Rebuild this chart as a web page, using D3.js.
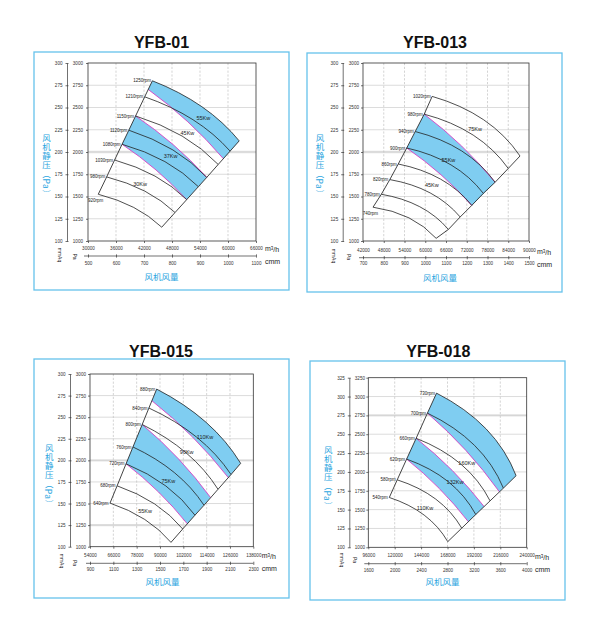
<!DOCTYPE html>
<html>
<head>
<meta charset="utf-8">
<script src="https://cdn.jsdelivr.net/npm/d3@7"></script>
<style>
html, body { margin: 0; padding: 0; background: #fff; }
svg { display: block; font-family: "Liberation Sans", Arial, sans-serif; }
</style>
</head>
<body>
<svg id="chart" width="604" height="637"></svg>
<script>
// ---- YFB-01 ----
const rpm01 = ["920rpm", "980rpm", "1030rpm", "1080rpm", "1120rpm", "1150rpm", "1210rpm", "1250rpm"];
const startQ01 = [32200, 34000, 35700, 37300, 38750, 40200, 42150, 43800];
const startP01 = [1525, 1720, 1910, 2087, 2245, 2405, 2620, 2800];
const endQ01 = [45800, 48650, 51150, 53650, 55450, 57900, 60450, 62400];
const endP01 = [1155, 1320, 1465, 1610, 1715, 1860, 2010, 2125];
// power limit lines (pink): [Q start, P start, Q end, P end]
const pink01 = [[37300, 2087, 51150, 1465], [40200, 2405, 55450, 1715], [42900, 2703, 59000, 1925]];
// shaded bands: [lower pink, upper pink], -1 = top rpm curve
const band01 = [[0, 1], [2, -1]];
const kw01 = ["30Kw", "37Kw", "45Kw", "55Kw"];
const kwQ01 = [41150, 47700, 51300, 54700];
const kwP01 = [1640, 1950, 2210, 2380];
const q01 = [30000, 36000, 42000, 48000, 54000, 60000, 66000];
const cmm01 = [500, 600, 700, 800, 900, 1000, 1100];
const pa01 = [1000, 1250, 1500, 1750, 2000, 2250, 2500, 2750, 3000];
const mm01 = [100, 125, 150, 175, 200, 225, 250, 275, 300];
const hi01 = [2000];

// ---- YFB-013 ----
const rpm013 = ["740rpm", "780rpm", "820rpm", "860rpm", "900rpm", "940rpm", "980rpm", "1020rpm"];
const startQ013 = [44900, 47300, 49750, 52200, 54650, 57100, 59700, 62000];
const startP013 = [1380, 1525, 1690, 1865, 2045, 2230, 2425, 2625];
const endQ013 = [63150, 66700, 70100, 73450, 76800, 80200, 84000, 87400];
const endP013 = [1030, 1130, 1270, 1400, 1535, 1660, 1815, 1955];
const pink013 = [[54650, 2045, 73450, 1400], [59700, 2425, 80200, 1660]];
const band013 = [[0, 1]];
const kw013 = ["45Kw", "55Kw", "75Kw"];
const kwQ013 = [61900, 66700, 74400];
const kwP013 = [1630, 1910, 2260];
const q013 = [42000, 48000, 54000, 60000, 66000, 72000, 78000, 84000, 90000];
const cmm013 = [700, 800, 900, 1000, 1100, 1200, 1300, 1400, 1500];
const pa013 = [1000, 1250, 1500, 1750, 2000, 2250, 2500, 2750, 3000];
const mm013 = [100, 125, 150, 175, 200, 225, 250, 275, 300];
const hi013 = [2000];

// ---- YFB-015 ----
const rpm015 = ["640rpm", "680rpm", "720rpm", "760rpm", "800rpm", "840rpm", "880rpm"];
const startQ015 = [64300, 67950, 72550, 76100, 80850, 84300, 88300];
const startP015 = [1505, 1705, 1960, 2155, 2415, 2606, 2825];
const endQ015 = [95650, 101700, 108000, 112650, 119850, 126550, 131500];
const endP015 = [1050, 1205, 1365, 1480, 1665, 1836, 1965];
const pink015 = [[72550, 1960, 104050, 1265], [80850, 2415, 116000, 1570], [85850, 2690, 125150, 1800]];
const band015 = [[0, 1], [2, -1]];
const kw015 = ["55Kw", "75Kw", "90Kw", "110Kw"];
const kwQ015 = [82300, 94300, 103750, 113150];
const kwP015 = [1415, 1765, 2093, 2274];
const q015 = [54000, 66000, 78000, 90000, 102000, 114000, 126000, 138000];
const cmm015 = [900, 1100, 1300, 1500, 1700, 1900, 2100, 2300];
const pa015 = [1000, 1250, 1500, 1750, 2000, 2250, 2500, 2750, 3000];
const mm015 = [100, 125, 150, 175, 200, 225, 250, 275, 300];
const hi015 = [2000, 1250];

// ---- YFB-018 ----
const rpm018 = ["540rpm", "580rpm", "620rpm", "660rpm", "700rpm", "730rpm"];
const startQ018 = [115100, 122300, 130850, 139500, 149750, 158050];
const startP018 = [1661, 1895, 2170, 2446, 2780, 3045];
const endQ018 = [168250, 180950, 193700, 206700, 218800, 230350];
const endP018 = [1075, 1254, 1435, 1616, 1785, 1950];
const pink018 = [[130850, 2170, 186950, 1339], [139500, 2446, 201250, 1541], [149750, 2780, 215150, 1737]];
const band018 = [[0, 1], [2, -1]];
const kw018 = ["110Kw", "132Kw", "160Kw"];
const kwQ018 = [147600, 174850, 185500];
const kwP018 = [1518, 1871, 2115];
const q018 = [96000, 120000, 144000, 168000, 192000, 216000, 240000];
const cmm018 = [1600, 2000, 2400, 2800, 3200, 3600, 4000];
const pa018 = [1000, 1250, 1500, 1750, 2000, 2250, 2500, 2750, 3000, 3250];
const mm018 = [100, 125, 150, 175, 200, 225, 250, 275, 300, 325];
const hi018 = [2750];

const BLUE = "#2aa5e0";
const BAND = "#7fcdf1";
const PINK = "#d63fc4";
const INK = "#222";

// where each panel sits on the page
const panels = [
  { title: "YFB-01", rpm: rpm01, sQ: startQ01, sP: startP01, eQ: endQ01, eP: endP01, pink: pink01, band: band01,
    kw: kw01, kwQ: kwQ01, kwP: kwP01, q: q01, cmm: cmm01, pa: pa01, mm: mm01, hi: hi01,
    box: [34, 52, 289, 290], tx: 161.5, ty: 48.3, plot: [88, 63, 256, 241], mmX: 67, paPad: 3,
    xl1: 248, cmmY: 256, xl2: 263, ux: 265, u1: 249, u2: 261.5, mmAq: [59.5, 255], paT: [75, 256.5],
    ytx: 46.5, yty: 133.5, xt: [161.5, 277], bend: 0.065, lowDrop: true },
  { title: "YFB-013", rpm: rpm013, sQ: startQ013, sP: startP013, eQ: endQ013, eP: endP013, pink: pink013, band: band013,
    kw: kw013, kwQ: kwQ013, kwP: kwP013, q: q013, cmm: cmm013, pa: pa013, mm: mm013, hi: hi013,
    box: [307, 53, 562, 292], tx: 435, ty: 48.3, plot: [363, 63, 529, 241], mmX: 342.7, paPad: 2,
    xl1: 250, cmmY: 257.7, xl2: 263.5, ux: 537, u1: 251.5, u2: 264.5, mmAq: [333.5, 256], paT: [348.3, 257],
    ytx: 320, yty: 133.5, xt: [440, 278], bend: 0.09, lowDrop: true },
  { title: "YFB-015", rpm: rpm015, sQ: startQ015, sP: startP015, eQ: endQ015, eP: endP015, pink: pink015, band: band015,
    kw: kw015, kwQ: kwQ015, kwP: kwP015, q: q015, cmm: cmm015, pa: pa015, mm: mm015, hi: hi015,
    box: [34, 359, 289, 598], tx: 161, ty: 356.7, plot: [90, 374, 253.3, 546.7], mmX: 70, paPad: 2,
    xl1: 555, cmmY: 563.3, xl2: 569.3, ux: 261.7, u1: 555.7, u2: 568.3, mmAq: [61.7, 561], paT: [75, 563],
    ytx: 49.3, yty: 443.8, xt: [162.5, 581.7], bend: 0.07, lowDrop: false },
  { title: "YFB-018", rpm: rpm018, sQ: startQ018, sP: startP018, eQ: endQ018, eP: endP018, pink: pink018, band: band018,
    kw: kw018, kwQ: kwQ018, kwP: kwP018, q: q018, cmm: cmm018, pa: pa018, mm: mm018, hi: hi018,
    box: [310, 361, 565, 600], tx: 438.3, ty: 356.7, plot: [368.3, 377.7, 526.7, 547.3], mmX: 349.3, paPad: 1.3,
    xl1: 555.7, cmmY: 563.7, xl2: 570, ux: 535, u1: 556.7, u2: 570, mmAq: [341.7, 560], paT: [355, 560],
    ytx: 328.3, yty: 445.5, xt: [442.5, 581.7], bend: 0.095, lowDrop: false }
];

const svg = d3.select("#chart");

// control point of a gently bowed curve between a and b (bows up / right)
function ctrl(a, b, k, t) {
  const dx = b[0] - a[0], dy = b[1] - a[1];
  const len = Math.hypot(dx, dy);
  const nx = dy / len, ny = -dx / len;
  return [a[0] + dx * t + nx * 2 * k * len, a[1] + dy * t + ny * 2 * k * len];
}

function drawPanel(p) {
  const g = svg.append("g");
  const [L, T, R, B] = p.plot;
  const x = d3.scaleLinear().domain([p.q[0], p.q[p.q.length - 1]]).range([L, R]);
  const y = d3.scaleLinear().domain([p.pa[0], p.pa[p.pa.length - 1]]).range([B, T]);
  const yMm = d3.scaleLinear().domain([p.mm[0], p.mm[p.mm.length - 1]]).range([B, T]);
  const xCmm = d3.scaleLinear().domain([p.cmm[0], p.cmm[p.cmm.length - 1]]).range([L, R]);

  g.append("rect")
    .attr("x", p.box[0]).attr("y", p.box[1])
    .attr("width", p.box[2] - p.box[0]).attr("height", p.box[3] - p.box[1])
    .attr("fill", "none").attr("stroke", "#66c2ec").attr("stroke-width", 1.3);

  g.append("text")
    .attr("x", p.tx).attr("y", p.ty)
    .attr("text-anchor", "middle").attr("font-weight", "bold").attr("font-size", 16)
    .attr("fill", "#111").text(p.title);

  // grid
  g.selectAll(".hi").data(p.hi).join("line").attr("class", "hi")
    .attr("x1", L).attr("x2", R).attr("y1", d => y(d)).attr("y2", d => y(d))
    .attr("stroke", "#e4e4e4").attr("stroke-width", 2.4);
  g.selectAll(".hg").data(p.pa.slice(1, -1)).join("line").attr("class", "hg")
    .attr("x1", L).attr("x2", R).attr("y1", d => y(d)).attr("y2", d => y(d))
    .attr("stroke", "#cdcdcd").attr("stroke-width", 0.7);
  g.selectAll(".vg").data(p.q.slice(1, -1)).join("line").attr("class", "vg")
    .attr("x1", d => x(d)).attr("x2", d => x(d)).attr("y1", T).attr("y2", B)
    .attr("stroke", "#c2c2c2").attr("stroke-width", 0.7).attr("stroke-dasharray", "2.2,1.6");

  const n = p.rpm.length;
  const S = i => [x(p.sQ[i]), y(p.sP[i])];
  const E = i => [x(p.eQ[i]), y(p.eP[i])];
  const edge = i => {
    if (i < 0) return { a: S(n - 1), b: E(n - 1), k: p.bend, t: 0.55 };
    const k = p.pink[i];
    return { a: [x(k[0]), y(k[1])], b: [x(k[2]), y(k[3])], k: 0.03, t: 0.5 };
  };

  // shaded bands
  p.band.forEach(([lo, up]) => {
    const e0 = edge(lo), e1 = edge(up);
    const c0 = ctrl(e0.a, e0.b, e0.k, e0.t), c1 = ctrl(e1.a, e1.b, e1.k, e1.t);
    const path = d3.path();
    path.moveTo(e0.a[0], e0.a[1]);
    path.quadraticCurveTo(c0[0], c0[1], e0.b[0], e0.b[1]);
    path.lineTo(e1.b[0], e1.b[1]);
    path.quadraticCurveTo(c1[0], c1[1], e1.a[0], e1.a[1]);
    path.closePath();
    g.append("path").attr("d", path.toString()).attr("fill", BAND);
  });

  // pink power lines
  p.pink.forEach((k, i) => {
    const e = edge(i), c = ctrl(e.a, e.b, e.k, e.t);
    const path = d3.path();
    path.moveTo(e.a[0], e.a[1]);
    path.quadraticCurveTo(c[0], c[1], e.b[0], e.b[1]);
    g.append("path").attr("d", path.toString()).attr("fill", "none")
      .attr("stroke", PINK).attr("stroke-width", 0.9);
  });

  // rpm curves
  p.rpm.forEach((r, i) => {
    const a = S(i), b = E(i), c = ctrl(a, b, p.bend, 0.55);
    const path = d3.path();
    path.moveTo(a[0], a[1]);
    path.quadraticCurveTo(c[0], c[1], b[0], b[1]);
    g.append("path").attr("d", path.toString()).attr("fill", "none")
      .attr("stroke", INK).attr("stroke-width", 0.8);
  });

  // left and right ends of the working range
  const line = d3.line();
  g.append("path").attr("d", line(d3.range(n).map(S))).attr("fill", "none").attr("stroke", INK).attr("stroke-width", 0.85);
  g.append("path").attr("d", line(d3.range(n).map(E))).attr("fill", "none").attr("stroke", INK).attr("stroke-width", 0.85);

  // rpm labels
  g.selectAll(".rl").data(p.rpm).join("text").attr("class", "rl")
    .attr("x", (d, i) => (i === 0 && p.lowDrop) ? S(i)[0] + 5 : S(i)[0] - 1.5)
    .attr("y", (d, i) => (i === 0 && p.lowDrop) ? S(i)[1] + 6.5 : S(i)[1])
    .attr("dy", "0.35em").attr("text-anchor", "end")
    .attr("font-size", 4.5).attr("fill", INK).text(d => d);

  // motor power labels
  g.selectAll(".kw").data(p.kw).join("text").attr("class", "kw")
    .attr("x", (d, i) => x(p.kwQ[i])).attr("y", (d, i) => y(p.kwP[i]))
    .attr("dy", "0.35em").attr("text-anchor", "middle")
    .attr("font-size", 5.5).attr("fill", INK).text(d => d);

  g.append("rect").attr("x", L).attr("y", T).attr("width", R - L).attr("height", B - T)
    .attr("fill", "none").attr("stroke", "#333").attr("stroke-width", 0.8);

  // Pa axis
  const aPa = g.append("g").attr("transform", `translate(${L},0)`)
    .call(d3.axisLeft(y).tickValues(p.pa).tickSize(2).tickPadding(p.paPad).tickFormat(d3.format("d")));
  aPa.select(".domain").remove();

  // mmAq axis
  const aMm = g.append("g").attr("transform", `translate(${p.mmX},0)`)
    .call(d3.axisLeft(yMm).tickValues(p.mm).tickSize(1.5).tickPadding(3).tickSizeOuter(0).tickFormat(d3.format("d")));
  aMm.selectAll(".tick line").attr("x1", 1.5);

  // m3/h axis
  const aQ = g.append("g").attr("transform", `translate(0,${B})`)
    .call(d3.axisBottom(x).tickValues(p.q).tickSize(2).tickFormat(d3.format("d")));
  aQ.select(".domain").remove();
  aQ.selectAll("text").attr("y", p.xl1 - B).attr("dy", "0.35em");

  // cmm axis
  const aC = g.append("g").attr("transform", `translate(0,${p.cmmY})`)
    .call(d3.axisBottom(xCmm).tickValues(p.cmm).tickSize(1.6).tickFormat(d3.format("d")));
  aC.select(".domain").remove();
  aC.selectAll(".tick line").attr("y1", -1.6);
  aC.selectAll("text").attr("y", p.xl2 - p.cmmY).attr("dy", "0.35em");
  aC.append("line").attr("x1", L - 4).attr("x2", R).attr("stroke", "#333").attr("stroke-width", 0.7);

  [aPa, aMm, aQ, aC].forEach(a => a.attr("font-size", 4.6).attr("font-family", null).attr("color", "#333"));
  [aPa, aMm, aQ, aC].forEach(a => a.selectAll("line, path").attr("stroke-width", 0.7));

  // units
  const u = g.append("text").attr("x", p.ux).attr("y", p.u1).attr("dy", "0.35em")
    .attr("font-size", 7).attr("fill", "#222");
  u.append("tspan").text("m");
  u.append("tspan").attr("font-size", 4.5).attr("dy", "-0.3em").text("3");
  u.append("tspan").attr("dy", "0.3em").text("/h");
  g.append("text").attr("x", p.ux).attr("y", p.u2).attr("dy", "0.35em")
    .attr("font-size", 7).attr("fill", "#222").text("cmm");

  g.append("text").attr("transform", `translate(${p.mmAq[0]},${p.mmAq[1]}) rotate(90)`)
    .attr("text-anchor", "middle").attr("dy", "0.35em").attr("font-size", 5).attr("fill", "#222").text("mmAq");
  g.append("text").attr("transform", `translate(${p.paT[0]},${p.paT[1]}) rotate(90)`)
    .attr("text-anchor", "middle").attr("dy", "0.35em").attr("font-size", 5).attr("fill", "#222").text("Pa");

  // axis titles, the y one set in vertical writing
  const cjk = "'Noto Sans CJK SC', sans-serif";
  g.append("text").attr("x", p.ytx).attr("y", p.yty)
    .style("writing-mode", "vertical-rl").style("text-orientation", "mixed")
    .attr("font-size", 8.5).attr("font-family", cjk).attr("letter-spacing", 0.5)
    .attr("fill", BLUE).text("风机静压（Pa）");
  g.append("text").attr("x", p.xt[0]).attr("y", p.xt[1]).attr("dy", "0.35em")
    .attr("text-anchor", "middle").attr("font-size", 8.5).attr("font-family", cjk)
    .attr("fill", BLUE).text("风机风量");
}

panels.forEach(drawPanel);
</script>
</body>
</html>
